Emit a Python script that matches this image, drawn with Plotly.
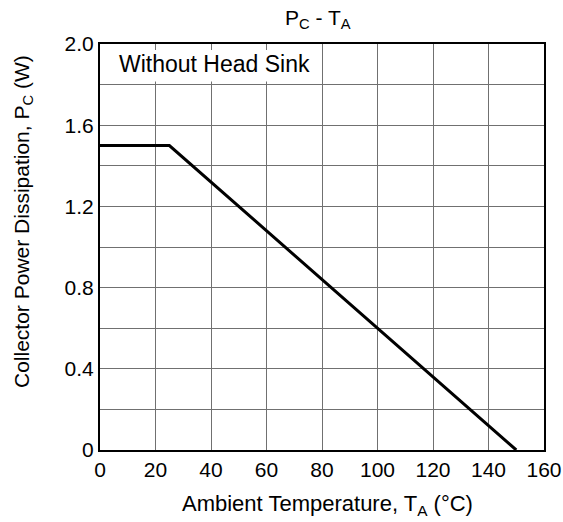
import plotly.graph_objects as go

# Data
temp_c = [0, 25, 150]
power_w = [1.5, 1.5, 0]
x_ticks = [0, 20, 40, 60, 80, 100, 120, 140, 160]
y_ticks = [0, 0.4, 0.8, 1.2, 1.6, 2.0]
y_tick_labels = ["0", "0.4", "0.8", "1.2", "1.6", "2.0"]

FONT = "Liberation Sans, Arial, sans-serif"

W, H = 563, 522
# plot-area edges in page pixels
L, R, T, B = 100, 544, 44, 450
PW, PH = R - L, B - T


def px(xp):
    return (xp - L) / PW


def py(yp):
    return (B - yp) / PH


fig = go.Figure()
fig.add_trace(go.Scatter(x=temp_c, y=power_w, mode="lines",
                         line=dict(color="black", width=3), showlegend=False,
                         hoverinfo="skip"))

fig.update_layout(
    width=W, height=H,
    margin=dict(l=L, r=W - R, t=T, b=H - B, autoexpand=False),
    paper_bgcolor="white", plot_bgcolor="white",
    font=dict(family=FONT, color="black", size=21),
)

fig.update_xaxes(
    range=[0, 160], tickvals=x_ticks, ticktext=[str(v) for v in x_ticks],
    showgrid=True, gridcolor="#707070", gridwidth=1,
    showline=True, linecolor="black", linewidth=2, mirror=True,
    ticks="", zeroline=False, automargin=False,
    tickfont=dict(size=21), ticklabeloverflow="allow",
)
fig.update_yaxes(
    range=[0, 2.0], tickvals=y_ticks, ticktext=y_tick_labels,
    showgrid=True, gridcolor="#707070", gridwidth=1,
    minor=dict(dtick=0.2, showgrid=True, gridcolor="#707070", gridwidth=1),
    showline=True, linecolor="black", linewidth=2, mirror=True,
    ticks="", zeroline=False, automargin=False,
    tickfont=dict(size=21),
)

# Titles as annotations for exact placement
fig.add_annotation(text="P<sub>C</sub> - T<sub>A</sub>", xref="paper", yref="paper",
                   x=px(318), y=py(19), xanchor="center", yanchor="middle",
                   showarrow=False, font=dict(size=21, family=FONT))
fig.add_annotation(text="Ambient Temperature, T<sub>A</sub> (°C)", xref="paper", yref="paper",
                   x=px(327), y=py(505), xanchor="center", yanchor="middle",
                   showarrow=False, font=dict(size=22, family=FONT))
fig.add_annotation(text="Collector Power Dissipation, P<sub>C</sub> (W)", xref="paper", yref="paper",
                   x=px(23), y=py(222), xanchor="center", yanchor="middle", textangle=-90,
                   showarrow=False, font=dict(size=21, family=FONT))

# White label box covering the grid near the top-left
fig.add_shape(type="rect", xref="x", yref="y", x0=0.3, x1=79, y0=1.815, y1=1.97,
              fillcolor="white", line=dict(width=0), layer="between")
fig.add_annotation(text="Without Head Sink", xref="paper", yref="paper", x=px(117),
                   y=py(64), xanchor="left", yanchor="middle", showarrow=False,
                   font=dict(size=23, family=FONT, color="black"))

fig.write_html(
    "out.html",
    config={"displayModeBar": False, "staticPlot": True},
    post_script="document.body.style.margin='0';"
                "document.documentElement.style.overflow='hidden';"
                "document.body.style.overflow='hidden';",
)
